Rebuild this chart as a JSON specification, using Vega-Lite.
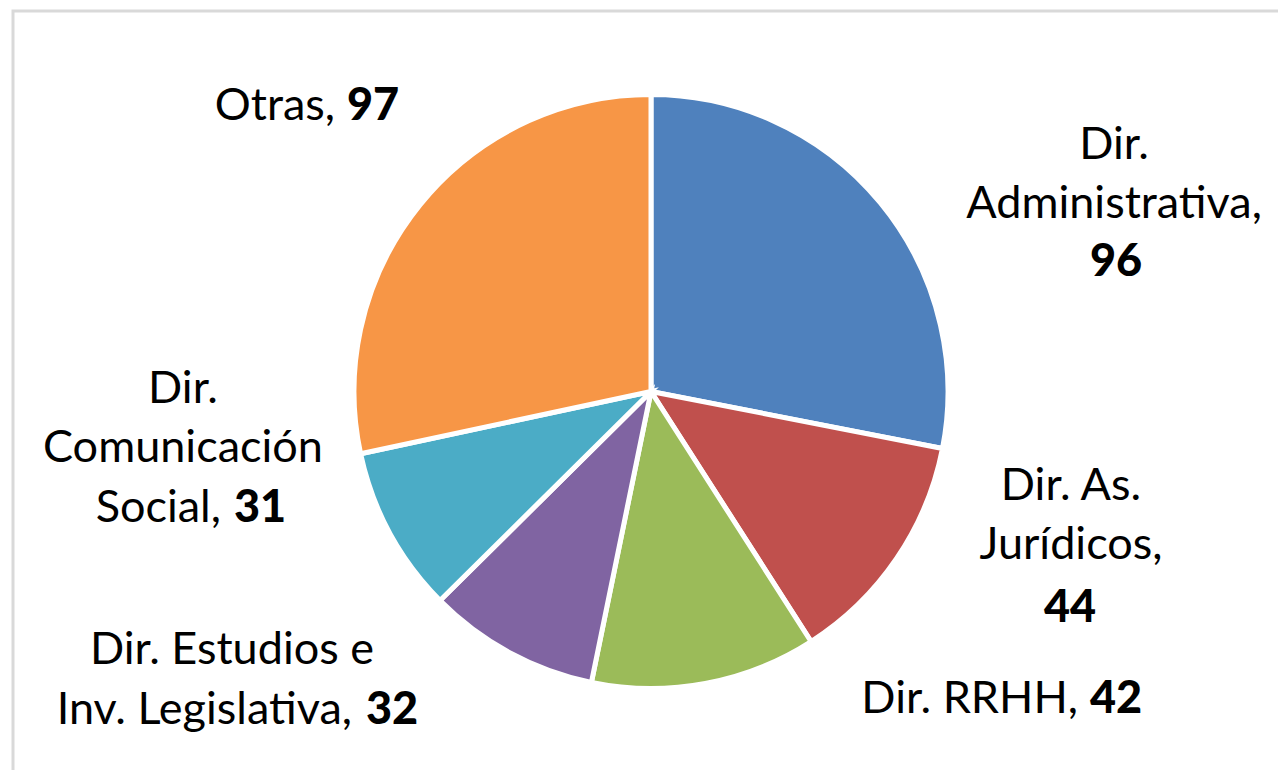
{
  "$schema": "https://vega.github.io/schema/vega-lite/v6.json",
  "autosize": {"type": "none"},
  "width": 1276,
  "height": 761,
  "padding": {"left": 13, "top": 11, "right": 0, "bottom": 0},
  "background": "white",
  "layer": [
    {
      "data": {"values": [{"frame": 1}]},
      "mark": {"type": "rect", "fillOpacity": 0, "stroke": "#d9d9d9", "strokeWidth": 3},
      "encoding": {}
    },
    {
      "data": {
        "values": [
          {"cat": "Dir. Administrativa", "value": 96, "idx": 1},
          {"cat": "Dir. As. Jurídicos", "value": 44, "idx": 2},
          {"cat": "Dir. RRHH", "value": 42, "idx": 3},
          {"cat": "Dir. Estudios e Inv. Legislativa", "value": 32, "idx": 4},
          {"cat": "Dir. Comunicación Social", "value": 31, "idx": 5},
          {"cat": "Otras", "value": 97, "idx": 6}
        ]
      },
      "encoding": {
        "theta": {"field": "value", "type": "quantitative", "stack": true},
        "order": {"field": "idx", "type": "quantitative", "sort": "ascending"},
        "detail": {"field": "cat", "type": "nominal"}
      },
      "layer": [
        {
          "mark": {"type": "arc", "outerRadius": 297, "stroke": "white", "strokeWidth": 5},
          "encoding": {
            "color": {
              "field": "cat", "type": "nominal", "legend": null,
              "scale": {
                "domain": ["Dir. Administrativa", "Dir. As. Jurídicos", "Dir. RRHH", "Dir. Estudios e Inv. Legislativa", "Dir. Comunicación Social", "Otras"],
                "range": ["#4F81BD", "#C0504D", "#9BBB59", "#8064A2", "#4BACC6", "#F79646"]
              }
            }
          }
        },
        {
          "mark": {"type": "text", "radius": 300, "align": "center", "dx": 231.5, "dy": -42.2},
          "encoding": {"text": {"condition": {"test": "datum.cat === 'Dir. Administrativa'", "value": "Dir.\nAdministrativa,"}, "value": ""}}
        },
        {
          "mark": {"type": "text", "radius": 300, "align": "center", "dx": 233.5, "dy": 74.8, "fontWeight": 900},
          "encoding": {"text": {"condition": {"test": "datum.cat === 'Dir. Administrativa'", "field": "value", "type": "quantitative"}, "value": ""}}
        },
        {
          "mark": {"type": "text", "radius": 300, "align": "center", "dx": 171.9, "dy": -59.7},
          "encoding": {"text": {"condition": {"test": "datum.cat === 'Dir. As. Jurídicos'", "value": "Dir. As.\nJurídicos,"}, "value": ""}}
        },
        {
          "mark": {"type": "text", "radius": 300, "align": "center", "dx": 170.9, "dy": 62, "fontWeight": 900},
          "encoding": {"text": {"condition": {"test": "datum.cat === 'Dir. As. Jurídicos'", "field": "value", "type": "quantitative"}, "value": ""}}
        },
        {
          "mark": {"type": "text", "radius": 300, "align": "right", "dx": 372.2, "dy": 27},
          "encoding": {"text": {"condition": {"test": "datum.cat === 'Dir. RRHH'", "value": "Dir. RRHH,"}, "value": ""}}
        },
        {
          "mark": {"type": "text", "radius": 300, "align": "left", "dx": 384.2, "dy": 27, "fontWeight": 900},
          "encoding": {"text": {"condition": {"test": "datum.cat === 'Dir. RRHH'", "field": "value", "type": "quantitative"}, "value": ""}}
        },
        {
          "mark": {"type": "text", "radius": 300, "align": "center", "dx": -276.2, "dy": 8.2},
          "encoding": {"text": {"condition": {"test": "datum.cat === 'Dir. Estudios e Inv. Legislativa'", "value": "Dir. Estudios e"}, "value": ""}}
        },
        {
          "mark": {"type": "text", "radius": 300, "align": "right", "dx": -156.2, "dy": 68.2},
          "encoding": {"text": {"condition": {"test": "datum.cat === 'Dir. Estudios e Inv. Legislativa'", "value": "Inv. Legislativa,"}, "value": ""}}
        },
        {
          "mark": {"type": "text", "radius": 300, "align": "left", "dx": -142.2, "dy": 68.2, "fontWeight": 900},
          "encoding": {"text": {"condition": {"test": "datum.cat === 'Dir. Estudios e Inv. Legislativa'", "field": "value", "type": "quantitative"}, "value": ""}}
        },
        {
          "mark": {"type": "text", "radius": 300, "align": "center", "dx": -204.2, "dy": -130.8},
          "encoding": {"text": {"condition": {"test": "datum.cat === 'Dir. Comunicación Social'", "value": "Dir.\nComunicación"}, "value": ""}}
        },
        {
          "mark": {"type": "text", "radius": 300, "align": "right", "dx": -166.2, "dy": -11.8},
          "encoding": {"text": {"condition": {"test": "datum.cat === 'Dir. Comunicación Social'", "value": "Social,"}, "value": ""}}
        },
        {
          "mark": {"type": "text", "radius": 300, "align": "left", "dx": -153.2, "dy": -11.8, "fontWeight": 900},
          "encoding": {"text": {"condition": {"test": "datum.cat === 'Dir. Comunicación Social'", "field": "value", "type": "quantitative"}, "value": ""}}
        },
        {
          "mark": {"type": "text", "radius": 300, "align": "right", "dx": -82.7, "dy": -82.5},
          "encoding": {"text": {"condition": {"test": "datum.cat === 'Otras'", "value": "Otras,"}, "value": ""}}
        },
        {
          "mark": {"type": "text", "radius": 300, "align": "left", "dx": -70.7, "dy": -82.5, "fontWeight": 900},
          "encoding": {"text": {"condition": {"test": "datum.cat === 'Otras'", "field": "value", "type": "quantitative"}, "value": ""}}
        }
      ]
    }
  ],
  "config": {
    "view": {"stroke": null},
    "text": {"font": "Lato", "fontSize": 45, "color": "#000000", "baseline": "alphabetic", "lineHeight": 59, "lineBreak": "\n"}
  }
}
